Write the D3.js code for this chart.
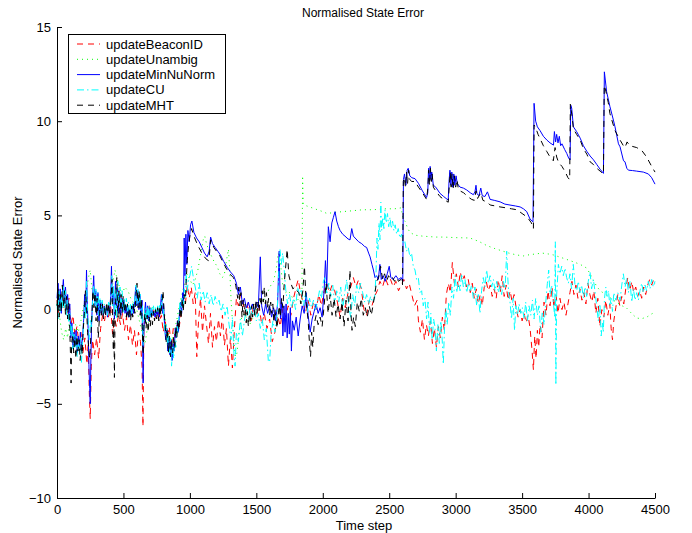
<!DOCTYPE html>
<html>
<head>
<meta charset="utf-8">
<script src="https://cdn.jsdelivr.net/npm/d3@7"></script>
<style>
body{margin:0;background:#fff;}
text{font-family:"Liberation Sans",Arial,Helvetica,sans-serif;fill:#000;}
</style>
</head>
<body>
<svg id="chart" width="692" height="533"></svg>
<script>
// axis ticks
var xTicks = [0,500,1000,1500,2000,2500,3000,3500,4000,4500];
var yTicks = [-10,-5,0,5,10,15];
var seriesNames = ['updateBeaconID','updateUnambig','updateMinNuNorm','updateCU','updateMHT'];

// [time step, error]
var beaconID = [[0,0.5],[15,-0.3],[30,0.8],[45,0.1],[60,1.0],[75,-0.2],[90,0.6],[105,-0.8],[120,-0.3],[135,-1.4],[150,-0.9],[165,-1.8],[180,-1.2],[195,-2.3],[210,-1.5],[225,-2.9],[235,-1.8],[243,-4.4],[250,-5.8],[258,-3.0],[268,-1.6],[283,-2.4],[298,-1.5],[313,-2.6],[328,-1.0],[343,-0.3],[358,-0.6],[373,0.2],[388,-0.4],[403,0.3],[418,-1.3],[433,-0.5],[448,-0.9],[463,-0.3],[478,-0.8],[493,-0.2],[508,-1.1],[523,-0.4],[538,-1.6],[553,-0.8],[568,-1.9],[583,-1.1],[598,-2.4],[613,-1.2],[628,-1.7],[640,-3.0],[647,-6.2],[654,-1.0],[665,0.0],[680,-0.4],[695,0.2],[710,-0.3],[725,0.1],[740,-0.5],[755,0.0],[770,-0.6],[785,-0.3],[800,-1.2],[815,-0.6],[830,-1.6],[845,-0.9],[860,-2.0],[875,-1.0],[890,-1.5],[905,-0.7],[920,-0.9],[935,-0.2],[950,0.4],[965,0.2],[980,1.3],[995,0.6],[1010,1.2],[1025,0.3],[1040,0.9],[1052,-2.5],[1065,-0.6],[1080,0.6],[1095,-1.2],[1110,0.2],[1125,-0.8],[1140,-1.8],[1155,-0.2],[1170,-2.0],[1185,-0.9],[1200,-1.7],[1215,-0.5],[1230,-1.4],[1245,-0.3],[1260,-1.9],[1275,-1.0],[1290,-3.0],[1305,-1.5],[1320,-3.1],[1335,-1.0],[1350,0.6],[1365,0.2],[1380,0.8],[1400,0.3],[1420,-0.3],[1440,0.4],[1460,-0.6],[1480,0.2],[1500,-0.4],[1520,0.3],[1540,-0.8],[1560,-0.2],[1580,-1.0],[1600,-0.5],[1620,-1.7],[1640,-1.2],[1660,-0.3],[1680,-0.9],[1700,0.1],[1720,-0.4],[1740,0.2],[1760,-0.3],[1780,0.6],[1800,1.2],[1815,1.6],[1830,1.0],[1850,0.4],[1870,-0.2],[1890,0.5],[1910,-0.3],[1930,0.4],[1950,0.0],[1970,0.8],[1990,0.2],[2010,1.0],[2030,1.4],[2050,0.9],[2070,1.3],[2090,1.0],[2110,0.4],[2130,-0.4],[2150,0.6],[2170,0.1],[2190,0.9],[2210,1.2],[2230,1.7],[2250,1.2],[2270,1.6],[2290,1.1],[2310,0.0],[2330,-0.3],[2350,0.5],[2370,0.2],[2390,0.7],[2410,1.0],[2430,1.5],[2450,1.2],[2470,1.7],[2490,1.3],[2510,1.6],[2530,1.2],[2550,1.5],[2570,1.0],[2590,1.3],[2610,1.6],[2630,1.1],[2650,1.4],[2670,0.8],[2690,0.2],[2710,0.5],[2720,-0.6],[2735,-1.2],[2750,-0.5],[2765,-1.6],[2780,-0.8],[2795,-1.4],[2810,-0.6],[2825,-1.8],[2840,-1.0],[2855,-2.0],[2870,-0.9],[2885,-1.5],[2900,-0.4],[2915,-1.1],[2930,0.8],[2945,1.4],[2960,0.9],[2975,2.5],[2990,1.4],[3005,1.9],[3020,1.2],[3035,2.0],[3050,1.5],[3065,1.8],[3080,1.2],[3095,1.6],[3110,0.9],[3125,1.4],[3140,0.6],[3155,1.1],[3170,0.3],[3185,0.8],[3200,0.2],[3215,1.2],[3230,1.5],[3245,1.0],[3260,1.3],[3275,0.7],[3290,1.1],[3305,0.6],[3320,1.6],[3335,0.9],[3350,1.8],[3365,0.7],[3380,1.3],[3395,0.5],[3410,1.0],[3425,0.4],[3440,0.8],[3455,0.1],[3470,-0.4],[3485,0.0],[3500,-0.6],[3515,-0.2],[3530,-0.7],[3545,-0.3],[3560,-1.0],[3575,-2.2],[3585,-3.2],[3595,-1.4],[3605,-2.6],[3615,-1.1],[3625,-2.0],[3635,-0.8],[3650,-1.5],[3665,0.4],[3680,-0.3],[3695,1.0],[3710,0.2],[3725,1.2],[3740,0.1],[3755,0.8],[3770,-0.2],[3785,0.6],[3800,0.0],[3815,0.4],[3830,-0.3],[3845,0.3],[3860,0.9],[3875,1.5],[3890,0.8],[3905,1.3],[3920,0.6],[3935,1.1],[3950,0.5],[3965,0.9],[3980,0.3],[3995,1.4],[4010,0.8],[4025,0.4],[4040,1.0],[4055,-0.2],[4070,0.6],[4085,-0.9],[4100,0.0],[4115,-0.4],[4130,0.5],[4145,-0.3],[4160,0.3],[4170,-1.0],[4180,-1.6],[4190,-0.6],[4205,0.1],[4220,0.8],[4235,0.2],[4250,0.7],[4265,0.3],[4280,1.1],[4295,1.7],[4310,1.0],[4325,1.5],[4340,0.9],[4355,1.2],[4370,0.7],[4385,1.0],[4400,0.6],[4415,1.2],[4430,0.8],[4445,1.3],[4460,1.6],[4475,1.3],[4490,1.6],[4500,1.4]];

var unambig = [[0,0.3],[20,-0.4],[35,-1.2],[50,-1.6],[65,-1.0],[80,-1.5],[95,-0.5],[110,-0.9],[125,-1.4],[140,-0.8],[160,-1.2],[180,-0.6],[200,0.2],[220,1.0],[240,1.8],[250,2.1],[265,0.9],[285,0.5],[305,0.8],[325,0.3],[345,0.1],[365,0.2],[385,-0.1],[405,0.6],[420,1.4],[436,2.1],[450,1.7],[470,1.2],[490,0.8],[510,1.2],[534,1.0],[555,0.6],[580,0.3],[600,0.0],[620,-0.6],[640,-1.2],[662,-1.8],[680,-1.0],[700,-0.2],[720,0.1],[740,0.0],[760,-0.2],[780,0.1],[800,0.3],[820,-0.8],[840,-1.4],[860,-1.8],[880,-1.2],[900,-0.6],[920,0.2],[940,0.8],[960,1.4],[980,1.9],[1000,1.6],[1020,1.3],[1040,1.6],[1060,2.1],[1080,2.9],[1100,3.7],[1112,3.9],[1125,3.5],[1145,3.1],[1165,2.8],[1185,2.5],[1205,2.3],[1225,1.9],[1245,1.7],[1260,1.9],[1275,2.6],[1290,3.2],[1300,2.1],[1310,0.5],[1320,-0.6],[1330,-1.6],[1342,-2.5],[1355,-2.3],[1370,-1.2],[1390,-0.4],[1410,-0.2],[1430,-0.5],[1450,-0.8],[1470,-0.5],[1490,-0.3],[1510,0.3],[1530,0.6],[1550,0.4],[1570,0.7],[1590,1.0],[1610,1.3],[1630,1.5],[1650,2.2],[1665,3.0],[1680,2.6],[1700,1.2],[1720,0.9],[1740,1.0],[1760,0.8],[1780,0.5],[1800,0.4],[1820,0.6],[1843,0.4],[1848,7.1],[1853,5.6],[1880,5.5],[1920,5.4],[1960,5.3],[2000,5.2],[2032,5.1],[2080,5.15],[2150,5.2],[2230,5.25],[2300,5.3],[2380,5.3],[2460,5.35],[2540,5.35],[2590,5.4],[2605,4.8],[2618,4.7],[2640,4.3],[2656,4.1],[2694,3.95],[2750,3.9],[2850,3.85],[2907,3.85],[3000,3.82],[3108,3.8],[3180,3.6],[3234,3.4],[3290,3.25],[3334,3.15],[3400,3.0],[3459,2.9],[3510,2.85],[3560,2.92],[3600,2.95],[3650,3.0],[3700,2.95],[3736,2.9],[3800,2.75],[3861,2.6],[3900,2.5],[3937,2.4],[3987,2.2],[4015,1.85],[4037,1.55],[4060,1.25],[4087,1.0],[4140,0.75],[4187,0.5],[4240,0.25],[4288,0.07],[4330,-0.25],[4363,-0.45],[4400,-0.48],[4438,-0.4],[4470,-0.25],[4500,-0.13]];

var minNuNorm = [[0,0.6],[8,1.4],[16,0.1],[24,1.1],[32,-0.2],[40,0.9],[48,1.6],[56,0.3],[64,1.2],[72,0.0],[80,0.8],[88,-0.4],[96,0.3],[104,-1.5],[112,-0.7],[120,-2.0],[128,-1.2],[136,-1.9],[144,-1.1],[152,-2.3],[160,-1.4],[168,-2.0],[176,-1.2],[184,-2.2],[192,-1.5],[200,-0.6],[208,0.8],[216,-0.2],[222,2.1],[228,0.3],[234,-1.0],[240,-2.9],[246,-4.2],[250,-5.0],[254,-3.0],[260,-0.8],[268,0.6],[276,1.8],[284,0.2],[292,1.0],[300,-0.3],[308,0.9],[316,-0.6],[324,0.5],[332,-0.2],[340,0.4],[348,-0.3],[356,0.2],[364,-0.2],[372,0.1],[380,-0.4],[388,0.2],[396,-0.1],[404,0.7],[410,2.3],[416,0.4],[424,1.2],[432,-0.5],[440,1.5],[448,0.1],[456,1.1],[464,-0.2],[472,0.9],[480,-0.3],[488,0.6],[496,-0.1],[504,0.5],[512,-0.2],[520,0.2],[528,-0.3],[536,0.1],[544,-0.4],[552,0.0],[560,-0.3],[568,0.2],[576,-0.2],[584,0.4],[592,1.2],[600,0.2],[608,1.0],[616,0.0],[624,0.8],[632,-0.3],[640,0.5],[645,-2.0],[648,-3.9],[652,-1.5],[658,-0.3],[666,0.4],[674,-0.5],[682,0.2],[690,-0.6],[698,0.1],[706,-0.4],[714,0.0],[722,-0.3],[730,-0.1],[738,-0.4],[746,-0.1],[754,-0.3],[762,0.0],[770,-0.4],[778,0.1],[786,0.8],[794,-0.2],[802,0.3],[810,-0.9],[818,-1.6],[826,-1.0],[834,-2.2],[842,-1.5],[850,-2.4],[858,-1.6],[866,-2.7],[874,-1.8],[882,-2.2],[890,-1.0],[898,-1.5],[906,-0.6],[914,-1.2],[922,-0.1],[930,0.4],[938,-0.2],[946,0.9],[952,0.4],[957,3.8],[963,1.8],[970,4.0],[977,2.4],[985,4.2],[995,3.6],[1005,4.5],[1015,4.7],[1030,4.1],[1050,3.8],[1070,3.6],[1090,3.3],[1110,3.0],[1130,2.8],[1145,3.1],[1156,3.85],[1170,3.5],[1190,3.3],[1210,3.1],[1230,2.9],[1255,2.55],[1280,2.25],[1305,2.0],[1330,1.8],[1350,1.4],[1365,0.8],[1380,1.2],[1395,0.3],[1410,0.6],[1425,0.1],[1440,0.4],[1455,0.0],[1470,0.3],[1485,-0.1],[1500,0.4],[1515,0.1],[1530,2.8],[1540,0.2],[1555,-0.3],[1570,0.3],[1585,-0.2],[1600,0.2],[1615,-0.4],[1630,0.1],[1645,-0.6],[1660,0.3],[1672,3.1],[1682,-0.5],[1692,0.4],[1700,-1.4],[1708,0.2],[1716,-1.2],[1724,0.3],[1732,-1.5],[1740,-0.2],[1748,-1.3],[1756,0.1],[1764,-2.2],[1772,-0.6],[1785,-1.1],[1800,-0.4],[1815,-1.4],[1830,-0.5],[1845,0.2],[1860,-0.2],[1875,0.9],[1890,-0.3],[1905,-1.2],[1920,-0.5],[1935,-0.1],[1950,0.3],[1965,-0.2],[1980,0.1],[1995,-0.4],[2010,1.0],[2020,2.6],[2030,1.2],[2042,4.4],[2055,3.6],[2068,4.6],[2080,4.9],[2092,5.2],[2105,4.7],[2118,4.4],[2130,4.2],[2150,4.0],[2167,3.9],[2190,3.75],[2205,3.7],[2218,4.3],[2230,3.9],[2243,3.8],[2270,3.6],[2293,3.5],[2315,3.35],[2330,3.3],[2345,3.0],[2356,2.8],[2370,2.4],[2381,2.1],[2393,1.7],[2405,1.8],[2418,1.6],[2430,2.4],[2440,1.6],[2455,1.8],[2470,1.5],[2485,1.9],[2500,2.3],[2512,1.7],[2530,1.6],[2550,1.8],[2570,1.6],[2590,1.7],[2602,1.5],[2607,6.9],[2615,7.2],[2625,6.6],[2635,7.4],[2643,7.5],[2655,7.1],[2670,7.0],[2694,6.95],[2720,6.7],[2750,6.3],[2781,5.95],[2790,6.2],[2796,7.5],[2802,6.8],[2808,7.6],[2814,6.9],[2820,7.3],[2832,6.6],[2850,6.5],[2882,6.17],[2910,6.0],[2944,5.81],[2950,6.8],[2957,7.4],[2964,6.6],[2971,7.3],[2978,6.5],[2986,7.2],[2994,6.6],[3003,7.1],[3012,6.7],[3022,6.6],[3033,6.5],[3058,6.45],[3083,6.35],[3110,6.2],[3133,6.1],[3145,6.25],[3153,6.6],[3160,6.15],[3175,6.05],[3189,6.45],[3200,6.05],[3220,6.0],[3239,6.25],[3259,5.85],[3290,5.8],[3334,5.72],[3370,5.6],[3409,5.55],[3450,5.5],[3485,5.45],[3510,5.35],[3535,5.2],[3560,4.8],[3582,4.66],[3590,10.95],[3602,10.0],[3615,9.7],[3635,9.5],[3660,9.2],[3686,9.0],[3710,8.85],[3736,8.73],[3743,9.45],[3752,8.9],[3760,9.3],[3770,8.85],[3780,9.2],[3790,8.7],[3800,8.8],[3820,8.5],[3836,8.29],[3850,8.05],[3861,7.94],[3866,10.85],[3873,10.7],[3886,9.7],[3910,9.45],[3937,9.1],[3961,8.7],[3987,8.4],[4012,8.15],[4037,7.95],[4062,7.7],[4087,7.45],[4112,7.23],[4119,12.62],[4136,11.56],[4161,10.77],[4187,10.06],[4199,9.7],[4225,8.8],[4237,8.64],[4263,7.9],[4274,7.85],[4288,7.5],[4300,7.4],[4330,7.38],[4362,7.35],[4412,7.3],[4450,7.2],[4475,7.0],[4500,6.66]];

var cu = [[0,0.3],[8,-0.5],[16,1.0],[24,-0.2],[32,0.8],[40,0.0],[48,1.3],[56,0.1],[64,1.0],[72,-0.3],[80,0.5],[88,-0.7],[96,-0.2],[104,-1.4],[112,-0.8],[120,-2.1],[128,-1.3],[136,-2.0],[144,-1.4],[152,-2.5],[160,-1.6],[168,-2.2],[176,-1.5],[184,-2.8],[192,-1.7],[200,-0.8],[208,0.2],[216,-0.5],[222,1.5],[228,0.4],[236,-0.9],[244,-1.6],[252,-0.5],[260,-1.0],[268,0.4],[276,1.3],[284,0.2],[292,1.1],[300,0.0],[308,0.9],[316,-0.3],[324,0.6],[332,-0.1],[340,0.5],[348,-0.2],[356,0.3],[364,-0.1],[372,0.2],[380,-0.3],[388,0.4],[396,0.0],[404,0.5],[412,1.8],[418,0.2],[426,1.3],[434,-0.3],[442,1.1],[450,-0.5],[458,1.5],[466,0.2],[474,1.2],[482,0.0],[490,1.0],[498,-0.2],[506,0.6],[514,0.0],[522,0.6],[530,-0.1],[538,0.4],[546,-0.3],[554,0.3],[562,-0.2],[570,0.4],[578,0.0],[586,0.6],[594,1.3],[602,0.3],[610,1.1],[618,0.2],[626,0.9],[634,-0.5],[642,0.2],[648,-1.9],[654,-0.6],[662,0.1],[670,-0.7],[678,0.2],[686,-0.5],[694,0.2],[702,-0.4],[710,0.1],[718,-0.3],[726,0.2],[734,-0.2],[742,0.1],[750,-0.3],[758,0.2],[766,-0.2],[774,0.3],[782,0.0],[790,0.8],[798,0.1],[806,-0.7],[814,-1.3],[822,-0.8],[830,-1.9],[838,-1.2],[846,-2.3],[854,-1.5],[862,-3.0],[870,-1.9],[878,-2.6],[886,-1.6],[894,-2.0],[902,-0.8],[910,-1.2],[918,-0.3],[926,0.4],[934,-0.2],[942,0.6],[950,0.1],[958,1.1],[966,0.6],[972,2.0],[980,1.0],[990,1.6],[1000,1.8],[1013,2.3],[1026,1.7],[1040,1.2],[1055,0.6],[1070,1.4],[1085,0.5],[1100,1.0],[1115,0.4],[1130,0.9],[1145,0.3],[1160,0.8],[1175,0.2],[1190,0.7],[1205,0.3],[1220,0.5],[1235,-0.1],[1250,0.3],[1265,-0.3],[1280,0.2],[1295,-0.8],[1310,-1.6],[1320,-0.4],[1332,-2.4],[1340,-3.0],[1350,-1.2],[1365,-1.7],[1380,-0.5],[1395,-1.4],[1410,-0.6],[1425,0.1],[1440,-0.5],[1455,0.2],[1470,-0.3],[1485,0.1],[1500,-0.6],[1515,-0.2],[1530,-1.0],[1545,-0.5],[1560,-1.6],[1575,-1.0],[1590,-2.7],[1600,-2.8],[1610,-1.4],[1625,-0.6],[1640,-1.2],[1655,-0.4],[1668,1.8],[1678,3.2],[1688,2.4],[1698,3.0],[1710,2.1],[1722,1.0],[1735,0.3],[1750,0.8],[1765,0.1],[1780,0.6],[1795,0.0],[1810,1.2],[1825,0.8],[1840,1.1],[1855,0.2],[1870,0.9],[1885,-0.1],[1900,0.6],[1915,0.1],[1930,0.5],[1945,0.0],[1960,0.4],[1975,1.0],[1990,0.6],[2005,1.5],[2017,1.7],[2030,0.8],[2045,1.4],[2060,0.7],[2075,1.3],[2090,0.3],[2105,1.0],[2120,0.4],[2135,1.2],[2150,0.0],[2165,0.9],[2180,1.6],[2195,0.2],[2210,-0.4],[2225,0.8],[2240,0.2],[2255,1.3],[2270,0.9],[2285,1.4],[2300,0.9],[2315,0.4],[2330,0.8],[2345,0.3],[2360,0.7],[2375,0.4],[2390,0.6],[2400,1.8],[2408,3.8],[2415,3.2],[2423,4.6],[2430,3.7],[2437,5.7],[2443,4.2],[2452,4.9],[2460,4.3],[2468,5.3],[2478,4.6],[2487,5.1],[2496,4.4],[2506,4.9],[2515,4.3],[2525,4.7],[2535,4.2],[2545,4.5],[2556,4.0],[2568,4.3],[2580,3.8],[2593,4.0],[2606,3.5],[2618,3.6],[2630,3.1],[2643,3.3],[2656,2.8],[2668,3.0],[2681,2.3],[2694,2.1],[2706,1.6],[2719,1.7],[2731,0.9],[2744,1.0],[2756,0.2],[2769,0.6],[2781,-0.5],[2792,0.4],[2803,-1.2],[2813,-0.2],[2823,-1.6],[2834,-0.5],[2844,-0.9],[2855,-2.2],[2866,-0.8],[2877,-1.8],[2888,-0.6],[2898,-1.5],[2907,-2.9],[2916,-1.0],[2926,0.1],[2936,-0.8],[2948,0.4],[2960,-0.3],[2972,1.2],[2984,0.6],[2996,1.8],[3008,0.9],[3020,1.5],[3033,1.0],[3045,1.9],[3058,1.2],[3070,1.6],[3083,0.9],[3096,1.4],[3108,1.0],[3120,1.3],[3133,0.6],[3145,1.2],[3158,0.2],[3170,0.8],[3183,-0.2],[3195,1.0],[3208,1.7],[3220,1.2],[3233,2.1],[3246,1.4],[3259,1.8],[3271,1.2],[3284,1.6],[3296,1.0],[3309,1.5],[3321,0.9],[3334,1.3],[3346,0.8],[3359,1.5],[3372,1.1],[3384,3.1],[3392,1.7],[3400,0.8],[3409,0.4],[3420,-0.5],[3432,0.6],[3443,-1.1],[3453,0.2],[3465,-0.3],[3477,0.3],[3490,-0.2],[3502,0.1],[3515,-0.5],[3527,0.4],[3540,-0.6],[3552,0.2],[3565,-0.3],[3578,0.5],[3590,-0.5],[3602,0.6],[3615,-0.3],[3627,0.2],[3640,-1.2],[3652,-0.1],[3665,-0.8],[3678,0.4],[3690,1.4],[3700,2.1],[3710,0.8],[3722,1.3],[3735,0.4],[3745,-0.4],[3750,3.6],[3754,-4.0],[3760,0.8],[3773,2.4],[3785,1.9],[3798,2.3],[3810,1.8],[3823,2.2],[3835,1.7],[3848,1.4],[3860,1.9],[3872,1.1],[3885,2.4],[3898,1.3],[3911,1.0],[3923,1.5],[3936,0.9],[3948,1.3],[3961,0.6],[3973,1.2],[3986,0.7],[3998,1.5],[4011,2.0],[4023,1.1],[4036,1.6],[4048,1.0],[4061,0.2],[4073,-0.6],[4086,0.3],[4095,-1.4],[4104,-0.7],[4111,-1.2],[4120,0.6],[4130,1.2],[4140,0.7],[4150,1.0],[4160,0.2],[4170,0.6],[4180,-0.1],[4190,0.9],[4205,0.5],[4220,0.9],[4237,0.5],[4250,1.3],[4262,1.9],[4275,1.2],[4287,1.7],[4300,0.9],[4312,1.5],[4325,0.4],[4337,1.1],[4350,0.5],[4362,0.9],[4375,0.5],[4387,1.0],[4400,1.4],[4412,0.9],[4425,1.3],[4437,1.0],[4450,1.5],[4462,1.1],[4475,1.6],[4487,1.2],[4500,1.5]];

var mht = [[0,0.2],[8,1.1],[16,-0.4],[24,0.8],[32,-0.1],[40,1.3],[48,0.2],[56,1.0],[64,-0.3],[72,0.7],[80,-0.5],[88,0.4],[96,-1.0],[102,-2.5],[106,-3.9],[110,-1.8],[118,-1.3],[126,-2.3],[134,-1.5],[142,-2.6],[150,-1.4],[158,-2.2],[166,-1.6],[174,-2.7],[182,-1.8],[190,-2.4],[198,-1.0],[206,-0.2],[214,1.0],[222,0.2],[230,-1.2],[238,-2.0],[246,-2.6],[254,-1.5],[262,-0.4],[270,1.0],[278,0.1],[286,0.9],[294,-0.6],[302,0.6],[310,-1.5],[318,-0.6],[326,0.3],[334,-0.3],[342,0.3],[350,-0.5],[358,0.2],[366,-0.3],[374,0.4],[382,-0.2],[390,0.3],[398,-0.4],[406,0.6],[414,1.6],[420,-1.0],[424,-2.2],[428,-0.4],[432,-3.6],[436,-1.0],[442,0.6],[450,1.7],[458,-0.4],[466,1.0],[474,-0.5],[482,0.8],[490,-0.2],[498,0.7],[506,-0.1],[514,0.4],[522,-0.4],[530,0.3],[538,-0.5],[546,0.1],[554,-0.6],[562,0.2],[570,-0.4],[578,0.3],[586,-0.2],[594,0.7],[602,1.4],[610,0.1],[618,1.0],[626,-0.3],[634,0.6],[642,-1.2],[648,-2.4],[654,-0.8],[662,-0.2],[670,-1.0],[678,-0.3],[686,-1.2],[694,-0.4],[702,-0.9],[710,-0.2],[718,-0.8],[726,-0.1],[734,-0.6],[742,0.0],[750,-0.5],[758,0.1],[766,-0.6],[774,0.2],[782,-0.3],[790,0.4],[798,1.0],[806,-0.2],[814,-0.8],[822,-1.7],[830,-1.0],[838,-2.3],[846,-1.4],[854,-2.5],[862,-1.6],[870,-2.3],[878,-1.4],[886,-2.1],[894,-0.9],[902,-1.5],[910,-0.5],[918,-1.1],[926,0.1],[934,-0.5],[942,0.6],[950,-0.1],[958,0.8],[966,0.3],[972,1.5],[980,2.6],[990,3.4],[1000,3.9],[1013,4.3],[1030,3.9],[1060,3.4],[1090,3.0],[1120,2.7],[1139,2.6],[1148,3.0],[1156,3.7],[1180,3.3],[1205,3.05],[1226,2.85],[1250,2.5],[1277,2.15],[1300,1.9],[1327,1.7],[1345,1.3],[1360,0.6],[1368,1.2],[1376,0.2],[1384,0.9],[1392,-0.4],[1400,0.5],[1408,-0.3],[1416,0.3],[1424,-0.7],[1432,-0.1],[1440,-0.9],[1448,-0.2],[1456,-0.7],[1464,0.2],[1472,-0.4],[1480,0.3],[1488,-0.3],[1496,0.5],[1504,-0.2],[1512,0.4],[1520,-0.1],[1528,0.6],[1536,0.2],[1544,1.0],[1552,0.4],[1560,1.2],[1568,0.3],[1576,0.9],[1584,0.1],[1592,0.6],[1600,-0.3],[1608,0.4],[1616,-0.2],[1624,0.3],[1632,-0.7],[1640,0.0],[1648,-0.5],[1656,-1.0],[1664,-0.3],[1672,0.2],[1680,-0.4],[1690,0.6],[1700,0.1],[1710,1.4],[1720,2.2],[1732,3.2],[1745,1.8],[1760,1.4],[1775,1.1],[1790,1.2],[1805,1.0],[1820,0.9],[1835,0.3],[1850,1.0],[1862,2.3],[1875,0.4],[1890,-0.6],[1900,-1.8],[1908,-2.5],[1916,-1.2],[1925,-2.0],[1935,-0.8],[1950,-0.3],[1965,-0.8],[1980,-0.4],[1995,-0.9],[2010,0.2],[2025,1.4],[2040,-0.2],[2055,0.8],[2070,-0.3],[2085,0.6],[2100,-0.4],[2115,0.3],[2130,-0.5],[2145,0.4],[2160,-0.9],[2175,0.5],[2190,-0.6],[2205,2.1],[2212,-0.2],[2220,-1.1],[2232,-0.4],[2245,-0.9],[2260,0.4],[2275,-0.1],[2290,0.6],[2305,-0.3],[2320,0.1],[2335,-0.4],[2350,0.2],[2365,-0.3],[2380,0.3],[2393,0.9],[2405,1.5],[2420,1.7],[2435,2.3],[2450,1.6],[2465,1.9],[2480,1.5],[2495,1.8],[2510,1.6],[2525,1.7],[2540,1.5],[2555,1.7],[2570,1.5],[2585,1.6],[2600,1.3],[2606,6.8],[2614,7.0],[2622,6.5],[2630,7.3],[2638,6.7],[2646,7.4],[2655,6.9],[2670,6.8],[2694,6.8],[2720,6.5],[2750,6.2],[2781,5.85],[2790,6.4],[2797,7.4],[2803,6.6],[2810,7.5],[2817,6.8],[2823,7.2],[2832,6.5],[2850,6.3],[2882,6.0],[2910,5.85],[2944,5.7],[2952,6.6],[2959,7.3],[2966,6.5],[2973,7.2],[2981,6.4],[2990,7.1],[3000,6.5],[3010,6.9],[3020,6.4],[3033,6.3],[3060,6.2],[3090,6.0],[3120,5.85],[3140,5.8],[3153,6.3],[3165,5.9],[3189,6.2],[3205,5.8],[3239,5.7],[3260,5.55],[3300,5.5],[3334,5.45],[3380,5.4],[3420,5.35],[3460,5.3],[3500,5.1],[3540,4.9],[3570,4.6],[3585,4.3],[3590,9.8],[3605,9.6],[3620,9.3],[3640,9.0],[3660,8.7],[3685,8.4],[3710,8.1],[3735,7.9],[3748,8.6],[3760,8.1],[3775,7.8],[3800,7.6],[3825,7.3],[3845,7.0],[3858,6.9],[3863,10.9],[3875,10.3],[3886,9.6],[3910,9.3],[3937,9.0],[3961,8.55],[3987,8.25],[4011,7.85],[4037,7.7],[4062,7.5],[4087,7.35],[4112,7.2],[4118,11.9],[4130,11.6],[4148,11.0],[4161,10.4],[4199,9.5],[4237,9.0],[4262,8.7],[4274,8.6],[4290,8.9],[4310,8.7],[4362,8.6],[4400,8.45],[4437,8.1],[4475,7.6],[4500,7.3]];

var allSeries = [beaconID, unambig, minNuNorm, cu, mht];
var lineStyles = [
    {color:'#ff0000', dash:'6,5'},
    {color:'#00ff00', dash:'1,4'},
    {color:'#0000ff', dash:null},
    {color:'#00ffff', dash:'7,3,1.5,3'},
    {color:'#000000', dash:'6,5'}
];

var svg = d3.select('#chart');
svg.append('rect').attr('width', 692).attr('height', 533).attr('fill', '#fff');

var x = d3.scaleLinear().domain([0, 4500]).range([57, 655]);
var y = d3.scaleLinear().domain([-10, 15]).range([498, 27]);

var line = d3.line()
    .x(function(d){ return x(d[0]); })
    .y(function(d){ return y(d[1]); });

var plot = svg.append('g').attr('class', 'lines');
allSeries.forEach(function(s, i){
    var p = plot.append('path')
        .datum(s)
        .attr('d', line)
        .attr('fill', 'none')
        .attr('stroke', lineStyles[i].color)
        .attr('stroke-width', 1);
    if (lineStyles[i].dash) p.attr('stroke-dasharray', lineStyles[i].dash);
});

// axes, ticks pointing inward like matlab
var xAxis = d3.axisBottom(x).tickValues(xTicks).tickSizeInner(-5).tickSizeOuter(0).tickPadding(7).tickFormat(d3.format('d'));
var yAxis = d3.axisLeft(y).tickValues(yTicks).tickSizeInner(-5).tickSizeOuter(0).tickPadding(6);

var gx = svg.append('g').attr('transform', 'translate(0,498)').call(xAxis);
var gy = svg.append('g').attr('transform', 'translate(57,0)').call(yAxis);
[gx, gy].forEach(function(g){
    g.selectAll('path,line').attr('stroke', '#000').attr('stroke-width', 1);
    g.selectAll('text').attr('font-size', 13).attr('fill', '#000')
        .style('font-family', '"Liberation Sans", Arial, sans-serif');
});

svg.append('text').attr('x', 363).attr('y', 17).attr('text-anchor', 'middle')
    .attr('font-size', 12).text('Normalised State Error');
svg.append('text').attr('x', 364).attr('y', 530).attr('text-anchor', 'middle')
    .attr('font-size', 13).text('Time step');
svg.append('text').attr('transform', 'translate(22,262.5) rotate(-90)').attr('text-anchor', 'middle')
    .attr('font-size', 13).text('Normalised State Error');

// legend
var legend = svg.append('g').attr('class', 'legend');
legend.append('rect').attr('x', 68.5).attr('y', 34.5).attr('width', 157).attr('height', 79)
    .attr('fill', '#fff').attr('stroke', '#000').attr('stroke-width', 1);
seriesNames.forEach(function(name, i){
    var ly = 44 + i * 15.3;
    var l = legend.append('line').attr('x1', 77).attr('x2', 100).attr('y1', ly).attr('y2', ly)
        .attr('stroke', lineStyles[i].color).attr('stroke-width', 1);
    if (lineStyles[i].dash) l.attr('stroke-dasharray', lineStyles[i].dash);
    legend.append('text').attr('x', 106).attr('y', ly + 4.5).attr('font-size', 13).text(name);
});
</script>
</body>
</html>
